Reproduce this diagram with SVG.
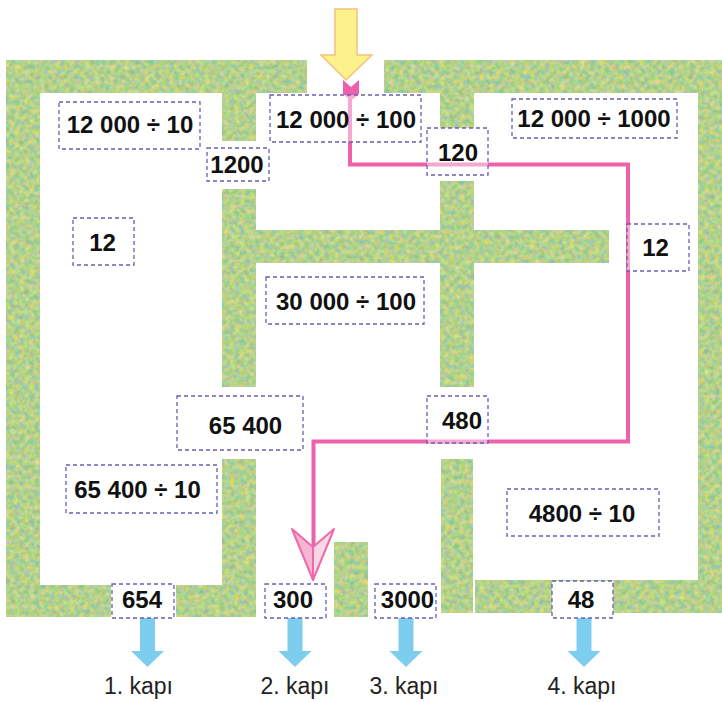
<svg xmlns="http://www.w3.org/2000/svg" width="722" height="702" viewBox="0 0 722 702">
<style>
.box{fill:#ffffff;fill-opacity:0.45;stroke:#6a5db4;stroke-width:1.3;stroke-dasharray:4 3}
.solid{fill-opacity:1}
.t{font-family:"Liberation Sans",Arial,sans-serif;font-weight:bold;font-size:24px;fill:#111;text-anchor:middle}
.lbl{font-family:"Liberation Sans",Arial,sans-serif;font-size:23px;fill:#222;text-anchor:middle}
.wall{fill:#b2d38c}
.blue{fill:#7dcdee}
</style>
<defs>
<filter id="tex" x="0" y="0" width="100%" height="100%" color-interpolation-filters="sRGB">
<feTurbulence type="fractalNoise" baseFrequency="0.2" numOctaves="2" seed="7" result="n"/>
<feColorMatrix in="n" type="matrix" values="0.5 -0.25 0 0 0.58  0.18 0.14 0 0 0.66  -0.25 0 0.4 0 0.48  0 0 0 0 1" result="c"/>
<feComposite in="c" in2="SourceGraphic" operator="in"/>
</filter>
</defs>
<rect width="722" height="702" fill="#ffffff"/>
<g id="walls" class="wall" filter="url(#tex)">
<path d="M6,60H307V93H256V141H222V93H40V585H111V617H6Z M384,60H722V613H698V93H474V128H440V93H384Z M222,189H256V230H440V181H474V230H609V263H474V387H440V263H256V387H222Z M222,459H256V617H176V585H222Z M334,542H368V617H334Z M441,459H473V613H441Z M475,580H698V613H475Z"/>
</g>
<g id="connectors">
<polygon points="335,9 357,9 357,55 372,55 346,80 321,55 335,55" fill="#fbf28c" stroke="#f5c27c" stroke-width="1.5"/>
<path d="M350,97V164.5H628V441.5H313.5V548" fill="none" stroke="#ef62ab" stroke-width="4"/>
<polygon points="343,80 351,87 359,80 359,94 353,99 349,99 343,94" fill="#ee5fae"/>
<polygon points="313,547 292,529 313,580" fill="#f6b6d3" stroke="#ee6aa8" stroke-width="2" stroke-linejoin="round"/>
<polygon points="313,547 334,529 313,580" fill="#fad7e7" stroke="#ee6aa8" stroke-width="2" stroke-linejoin="round"/>
<polygon class="blue" points="140,618 155,618 155,651 164,651 147.5,667 131,651 140,651"/>
<polygon class="blue" points="287.5,618 302.5,618 302.5,651 311.5,651 295,667 278.5,651 287.5,651"/>
<polygon class="blue" points="398.5,618 413.5,618 413.5,651 422.5,651 406,667 389.5,651 398.5,651"/>
<polygon class="blue" points="576.5,618 591.5,618 591.5,651 600.5,651 584,667 567.5,651 576.5,651"/>
</g>
<g id="n1"><rect class="box" x="59" y="102" width="141" height="47"/><text class="t" x="130" y="133">12 000 ÷ 10</text></g>
<g id="n2"><rect class="box" x="270" y="95" width="151" height="47"/><text class="t" x="346" y="128">12 000 ÷ 100</text></g>
<g id="n3"><rect class="box" x="207" y="148" width="62" height="33"/><text class="t" x="237" y="173">1200</text></g>
<g id="n4"><rect class="box" x="427" y="128" width="61" height="47"/><text class="t" x="458" y="161">120</text></g>
<g id="n5"><rect class="box" x="512" y="99" width="165" height="39"/><text class="t" x="594" y="127">12 000 ÷ 1000</text></g>
<g id="n6"><rect class="box" x="73" y="218" width="61" height="47"/><text class="t" x="102.5" y="251">12</text></g>
<g id="n7"><rect class="box" x="627" y="224" width="62" height="47"/><text class="t" x="655.5" y="256">12</text></g>
<g id="n8"><rect class="box" x="266" y="277" width="158" height="47"/><text class="t" x="346" y="310">30 000 ÷ 100</text></g>
<g id="n9"><rect class="box" x="177" y="396" width="126" height="54"/><text class="t" x="245.5" y="434">65 400</text></g>
<g id="n10"><rect class="box" x="427" y="396" width="61" height="47"/><text class="t" x="462" y="429">480</text></g>
<g id="n11"><rect class="box" x="66" y="465" width="151" height="48"/><text class="t" x="137.5" y="498">65 400 ÷ 10</text></g>
<g id="n12"><rect class="box" x="507" y="489" width="152" height="47"/><text class="t" x="582" y="522">4800 ÷ 10</text></g>
<g id="n13"><rect class="box solid" x="112" y="584" width="62" height="34"/><text class="t" x="142" y="608">654</text></g>
<g id="n14"><rect class="box" x="265" y="584" width="61" height="34"/><text class="t" x="293" y="608">300</text></g>
<g id="n15"><rect class="box" x="375" y="584" width="61" height="34"/><text class="t" x="407.5" y="608">3000</text></g>
<g id="n16"><rect class="box solid" x="552" y="581" width="61" height="37"/><text class="t" x="581" y="608">48</text></g>
<g id="d1"><text class="lbl" x="138.5" y="694">1. kapı</text></g>
<g id="d2"><text class="lbl" x="295" y="694">2. kapı</text></g>
<g id="d3"><text class="lbl" x="404" y="694">3. kapı</text></g>
<g id="d4"><text class="lbl" x="582" y="694">4. kapı</text></g>
</svg>
